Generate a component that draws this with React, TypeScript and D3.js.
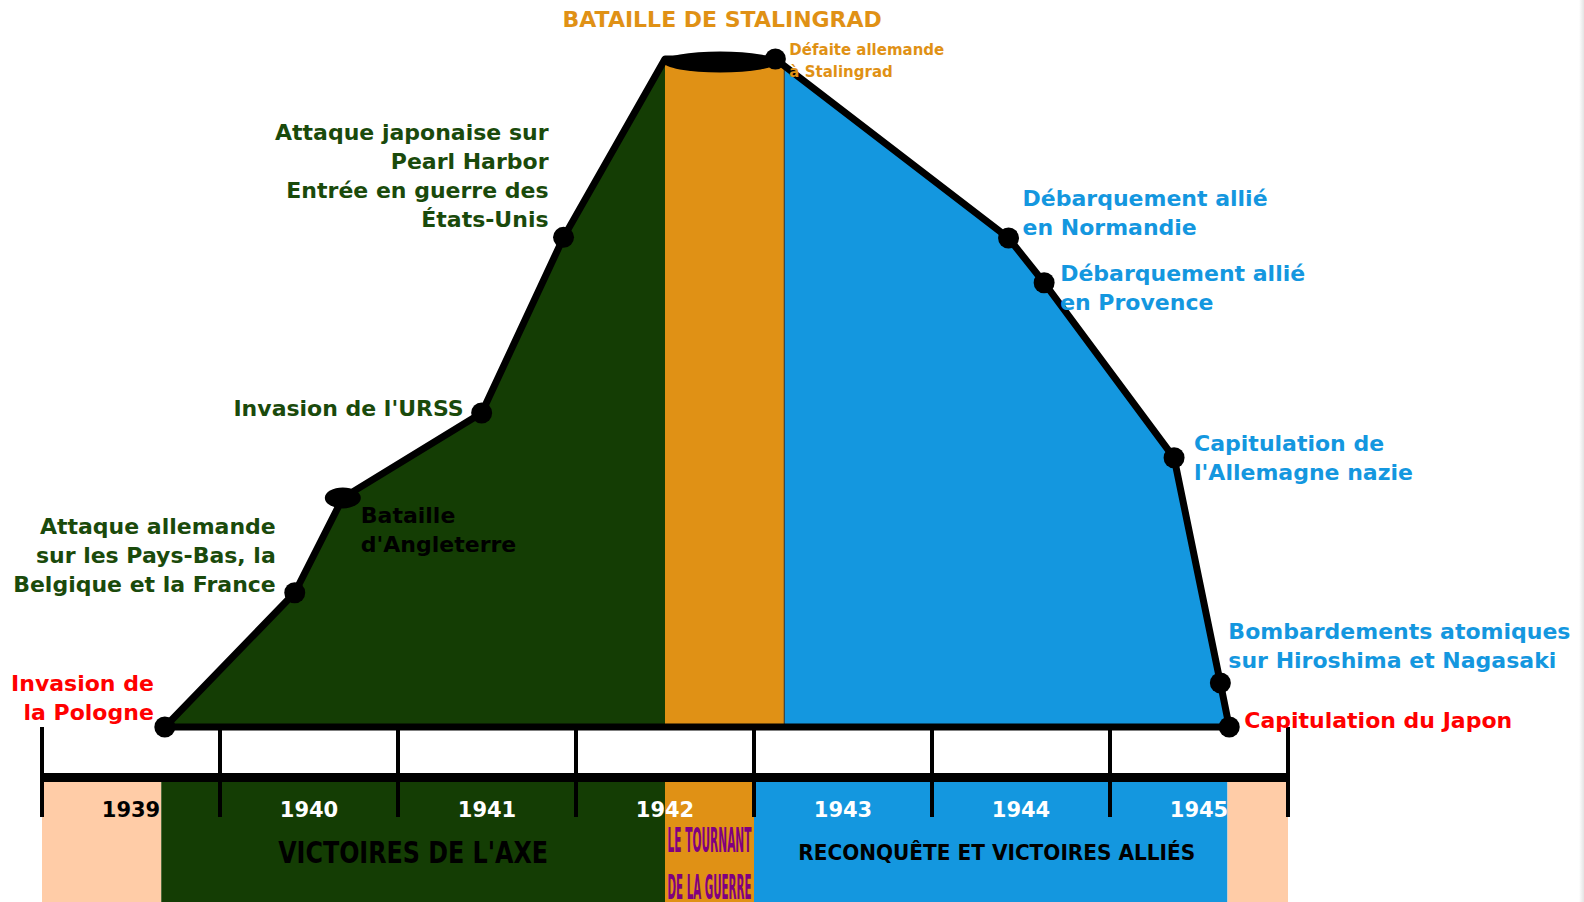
import React, { useMemo } from "react";
import * as d3 from "d3";

const WIDTH = 1584;
const HEIGHT = 902;

// timeline events (decimal year, "level" of the Axis advance 0..100)
const EVENT_IDS = [
  "pologne", "paysbas", "angleterre", "urss", "pearl", "peak",
  "stalingrad", "normandie", "provence", "allemagne", "atomique", "japon",
];
const EVENT_YEARS = [
  1939.69, 1940.42, 1940.69, 1941.47, 1941.93, 1942.5,
  1943.12, 1944.43, 1944.63, 1945.36, 1945.62, 1945.67,
];
const EVENT_LEVELS = [0, 20.1, 34.3, 47.0, 73.3, 100, 100, 73.2, 66.5, 40.3, 6.6, 0];
const EVENT_LABELS: Record<string, string[]> = {
  pologne: ["Invasion de", "la Pologne"],
  paysbas: ["Attaque allemande", "sur les Pays-Bas, la", "Belgique et la France"],
  angleterre: ["Bataille", "d'Angleterre"],
  urss: ["Invasion de l'URSS"],
  pearl: ["Attaque japonaise sur", "Pearl Harbor", "Entrée en guerre des", "États-Unis"],
  stalingrad: ["Défaite allemande", "à Stalingrad"],
  normandie: ["Débarquement allié", "en Normandie"],
  provence: ["Débarquement allié", "en Provence"],
  allemagne: ["Capitulation de", "l'Allemagne nazie"],
  atomique: ["Bombardements atomiques", "sur Hiroshima et Nagasaki"],
  japon: ["Capitulation du Japon"],
};

// Stalingrad column (start, end) and its title
const STALINGRAD_SPAN = [1942.5, 1943.17];
const STALINGRAD_TITLE = "BATAILLE DE STALINGRAD";

// years on the axis
const TICK_YEARS = [1939, 1940, 1941, 1942, 1943, 1944, 1945, 1946];
const YEAR_LABELS = ["1939", "1940", "1941", "1942", "1943", "1944", "1945"];

// bottom phase bands
const PHASE_BOUNDS = [1939, 1939.67, 1942.5, 1943.0, 1945.66, 1946];
const PHASE_KEYS = ["avant", "axe", "tournant", "allies", "apres"];

const COLORS = {
  green: "#143d04",
  greenText: "#1a4a0b",
  orange: "#e09115",
  blue: "#1497df",
  peach: "#ffcca7",
  red: "#ff0000",
  purple: "#800080",
};

const PHASE_FILL: Record<string, string> = {
  avant: COLORS.peach,
  axe: COLORS.green,
  tournant: COLORS.orange,
  allies: COLORS.blue,
  apres: COLORS.peach,
};

// label placement relative to the event dot
const LABEL_LAYOUT: Record<string, { dx: number; dy: number; anchor: string; color: string; size: number }> = {
  pologne: { dx: -11, dy: -44, anchor: "end", color: COLORS.red, size: 22 },
  paysbas: { dx: -19, dy: -67, anchor: "end", color: COLORS.greenText, size: 22 },
  angleterre: { dx: 18, dy: 17, anchor: "start", color: "#000", size: 22 },
  urss: { dx: -18, dy: -5, anchor: "end", color: COLORS.greenText, size: 22 },
  pearl: { dx: -15, dy: -105, anchor: "end", color: COLORS.greenText, size: 22 },
  stalingrad: { dx: 14, dy: -9, anchor: "start", color: COLORS.orange, size: 15 },
  normandie: { dx: 14, dy: -40, anchor: "start", color: COLORS.blue, size: 22 },
  provence: { dx: 16, dy: -10, anchor: "start", color: COLORS.blue, size: 22 },
  allemagne: { dx: 20, dy: -15, anchor: "start", color: COLORS.blue, size: 22 },
  atomique: { dx: 8, dy: -52, anchor: "start", color: COLORS.blue, size: 22 },
  japon: { dx: 15, dy: -7, anchor: "start", color: COLORS.red, size: 22 },
};

const FONT = "'DejaVu Sans', Verdana, sans-serif";
const CONDENSED = "'DejaVu Sans Condensed', 'DejaVu Sans', sans-serif";

const App = () => {
  const x = useMemo(() => d3.scaleLinear().domain([1939, 1946]).range([42, 1288]), []);
  const y = useMemo(() => d3.scaleLinear().domain([0, 100]).range([727, 59]), []);

  const points = EVENT_IDS.map((id, i) => ({ id, year: EVENT_YEARS[i], level: EVENT_LEVELS[i] }));
  const axisPts = points.filter((p) => p.year <= STALINGRAD_SPAN[0]);
  const alliedPts = points.filter((p) => p.year > STALINGRAD_SPAN[0]);

  const area = d3
    .area<{ year: number; level: number }>()
    .x((d) => x(d.year))
    .y0(y(0))
    .y1((d) => y(d.level));
  const line = d3
    .line<{ year: number; level: number }>()
    .x((d) => x(d.year))
    .y((d) => y(d.level));

  const outline = (line(points) || "") + "Z";

  const baseY = y(0);
  const bandTop = 782;
  const lineH = 29;

  const colX0 = x(STALINGRAD_SPAN[0]);
  const colX1 = x(STALINGRAD_SPAN[1]);
  const peakY = y(100);
  const ellCx = x(1942.81);

  return (
    <svg
      width={WIDTH}
      height={HEIGHT}
      style={{ position: "fixed", left: 0, top: 0, display: "block", background: "#fff" }}
    >
      <defs>
        <linearGradient id="edge" x1="0" x2="1" y1="0" y2="0">
          <stop offset="0" stopColor="#ffffff" />
          <stop offset="1" stopColor="#e4e4e4" />
        </linearGradient>
      </defs>
      <rect x={WIDTH - 5} y={0} width={5} height={HEIGHT} fill="url(#edge)" />

      {/* main shape */}
      <path d={area(axisPts) || ""} fill={COLORS.green} />
      <path d={area(alliedPts) || ""} fill={COLORS.blue} />
      <rect x={colX0} y={peakY} width={colX1 - colX0} height={baseY - peakY} fill={COLORS.orange} />
      <line x1={colX1} x2={colX1} y1={peakY} y2={baseY} stroke="#333" strokeWidth={1} />
      <path d={outline} fill="none" stroke="#000" strokeWidth={7} strokeLinejoin="round" />
      <ellipse cx={ellCx} cy={peakY + 3} rx={57} ry={10.5} fill="#000" />

      {/* bottom bands */}
      {PHASE_KEYS.map((k, i) => (
        <rect
          key={k}
          x={x(PHASE_BOUNDS[i])}
          y={bandTop}
          width={x(PHASE_BOUNDS[i + 1]) - x(PHASE_BOUNDS[i])}
          height={HEIGHT - bandTop}
          fill={PHASE_FILL[k]}
        />
      ))}

      {/* axis */}
      <line x1={x(1939)} x2={x(1946)} y1={777.5} y2={777.5} stroke="#000" strokeWidth={9} />
      {TICK_YEARS.map((t) => (
        <line key={t} x1={x(t)} x2={x(t)} y1={baseY} y2={817} stroke="#000" strokeWidth={4} />
      ))}
      {YEAR_LABELS.map((lab, i) => (
        <text
          key={lab}
          x={x(+lab + 0.5)}
          y={809}
          dy="0.36em"
          textAnchor="middle"
          fontFamily={FONT}
          fontWeight="bold"
          fontSize={21}
          fill={i === 0 ? "#000" : "#fff"}
        >
          {lab}
        </text>
      ))}

      {/* phase titles */}
      <text
        x={(x(PHASE_BOUNDS[1]) + x(PHASE_BOUNDS[2])) / 2}
        y={852}
        dy="0.36em"
        textAnchor="middle"
        fontFamily={CONDENSED}
        fontWeight="bold"
        fontSize={31}
        textLength={270}
        lengthAdjust="spacingAndGlyphs"
        fill="#000"
      >
        VICTOIRES DE L'AXE
      </text>
      {["LE TOURNANT", "DE LA GUERRE"].map((t, i) => (
        <text
          key={t}
          x={(x(PHASE_BOUNDS[2]) + x(PHASE_BOUNDS[3])) / 2}
          y={840 + i * 47}
          dy="0.36em"
          textAnchor="middle"
          fontFamily={CONDENSED}
          fontWeight="bold"
          fontSize={34}
          textLength={84}
          lengthAdjust="spacingAndGlyphs"
          fill={COLORS.purple}
        >
          {t}
        </text>
      ))}
      <text
        x={(x(PHASE_BOUNDS[3]) + x(PHASE_BOUNDS[4])) / 2 + 6}
        y={852}
        dy="0.36em"
        textAnchor="middle"
        fontFamily={CONDENSED}
        fontWeight="bold"
        fontSize={21}
        textLength={397}
        lengthAdjust="spacingAndGlyphs"
        fill="#000"
      >
        RECONQUÊTE ET VICTOIRES ALLIÉS
      </text>

      {/* event dots */}
      {points
        .filter((p) => EVENT_LABELS[p.id])
        .map((p) =>
          p.id === "angleterre" ? (
            <ellipse key={p.id} cx={x(p.year)} cy={y(p.level)} rx={18} ry={10.5} fill="#000" />
          ) : (
            <circle key={p.id} cx={x(p.year)} cy={y(p.level)} r={10.5} fill="#000" />
          )
        )}

      {/* event labels */}
      {points
        .filter((p) => EVENT_LABELS[p.id])
        .map((p) => {
          const lay = LABEL_LAYOUT[p.id];
          const small = lay.size < 18;
          return (
            <text
              key={p.id + "-lab"}
              textAnchor={lay.anchor}
              fontFamily={FONT}
              fontWeight="bold"
              fontSize={lay.size}
              fill={lay.color}
            >
              {EVENT_LABELS[p.id].map((l, j) => (
                <tspan
                  key={j}
                  x={x(p.year) + lay.dx}
                  y={y(p.level) + lay.dy + j * (small ? 22 : lineH)}
                  dy="0.36em"
                >
                  {l}
                </tspan>
              ))}
            </text>
          );
        })}

      <text
        x={ellCx + 2}
        y={19}
        dy="0.36em"
        textAnchor="middle"
        fontFamily={FONT}
        fontWeight="bold"
        fontSize={22}
        fill={COLORS.orange}
      >
        {STALINGRAD_TITLE}
      </text>
    </svg>
  );
};

export default App;
